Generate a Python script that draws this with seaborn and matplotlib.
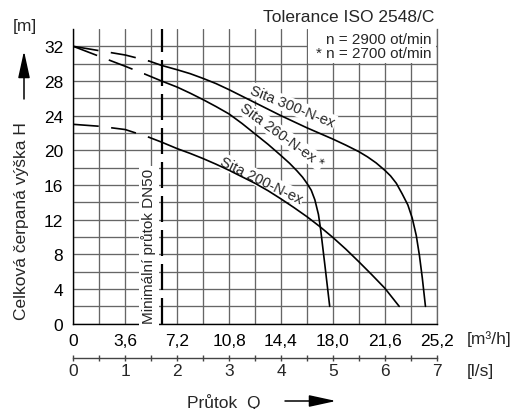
import numpy as np
import pandas as pd
import matplotlib
matplotlib.use("Agg")
import matplotlib.pyplot as plt
import seaborn as sns
from matplotlib.patches import Rectangle

# ---------------- data ----------------
q_300 = [5.26, 6.12, 7.2, 8.1, 9.0, 9.9, 10.8, 11.7, 12.6, 13.5, 14.4, 15.3, 16.2, 17.1, 18.0, 18.9, 19.8,
         20.4, 21.0, 21.6, 22.0, 22.4, 22.8, 23.2, 23.5, 23.78, 24.0, 24.2, 24.42]
h_300 = [30.3, 29.8, 29.3, 28.85, 28.3, 27.7, 27.0, 26.25, 25.5, 24.75, 24.0, 23.3, 22.6, 21.95, 21.3, 20.6, 19.85,
         19.25, 18.55, 17.7, 17.05, 16.2, 15.0, 13.7, 12.2, 10.2, 7.9, 5.3, 2.0]
q_300_dash = [0, 1.8, 3.6, 5.26]
h_300_dash = [32.0, 31.5, 31.0, 30.3]

q_260 = [4.96, 6.12, 7.2, 8.1, 9.0, 9.9, 10.8, 11.7, 12.6, 13.5, 14.4, 15.0, 15.5, 15.9, 16.2, 16.5, 16.75,
         17.0, 17.15, 17.45, 17.78]
h_260 = [28.8, 28.0, 27.3, 26.6, 25.85, 25.05, 24.2, 23.1, 21.9, 20.7, 19.4, 18.5, 17.65, 16.9, 16.2, 15.4, 14.3,
         12.6, 10.9, 6.7, 2.0]
q_260_dash = [0, 1.8, 3.6, 4.96]
h_260_dash = [32.0, 30.85, 29.7, 28.8]

q_200 = [5.26, 6.12, 7.2, 8.1, 9.0, 9.9, 10.8, 11.7, 12.6, 13.5, 14.4, 15.3, 16.2, 17.1, 18.0, 18.9, 19.8,
         20.7, 21.6, 22.6]
h_200 = [21.5, 20.95, 20.2, 19.65, 19.05, 18.4, 17.7, 16.95, 16.2, 15.35, 14.4, 13.4, 12.35, 11.2, 9.95, 8.6, 7.15,
         5.65, 4.1, 2.0]
q_200_dash = [0, 1.8, 3.6, 5.26]
h_200_dash = [23.0, 22.78, 22.4, 21.5]

q_min = 6.12  # Minimální průtok DN50 (1.7 l/s)

x_ticks_m3h = [0, 3.6, 7.2, 10.8, 14.4, 18.0, 21.6, 25.2]
x_tick_labels = ["0", "3,6", "7,2", "10,8", "14,4", "18,0", "21,6", "25,2"]
y_ticks = [0, 4, 8, 12, 16, 20, 24, 28, 32]
ls_ticks = [0, 1, 2, 3, 4, 5, 6, 7]

labels = ["Sita 300-N-ex", "Sita 260-N-ex *", "Sita 200-N-ex"]

# ---------------- style ----------------
sns.set_theme(style="white")
plt.rcParams["font.family"] = ["Liberation Sans", "DejaVu Sans"]

W, H = 513, 410
fig = plt.figure(figsize=(W / 100, H / 100), dpi=100)

def fx(px):
    return px / W

def fy(py):
    return 1 - py / H

ax = fig.add_axes([fx(73.3), fy(324.7), fx(436.7) - fx(73.3), fy(30) - fy(324.7)])
ax.set_facecolor("white")
ax.set_xlim(0, 25.2)
ax.set_ylim(0, 34)

grid_c = "#666666"
xt = np.round(np.arange(0, 25.2 + 0.01, 1.8), 1)
ax.set_xticks(xt)
ax.set_xticklabels([x_tick_labels[x_ticks_m3h.index(v)] if v in x_ticks_m3h else "" for v in xt],
                   fontsize=12.5)
yt = np.arange(0, 33, 2)
ax.set_yticks(yt)
ax.set_yticklabels([str(int(v)) if int(v) in y_ticks else "" for v in yt], fontsize=12.5)
ax.grid(True, color=grid_c, lw=0.95)
ax.tick_params(axis="x", direction="out", length=3.5, width=1, color="black", pad=3, labelcolor="black")
ax.tick_params(axis="y", direction="out", length=4.8, width=1, color="black", pad=2.5, labelcolor="black")
ax.spines["top"].set_visible(False)
ax.spines["right"].set_color(grid_c)
ax.spines["right"].set_linewidth(0.95)
ax.spines["left"].set_color("black")
ax.spines["bottom"].set_color("black")
ax.spines["left"].set_linewidth(1.0)
ax.spines["bottom"].set_linewidth(1.0)

# white box for speed legend
ax.add_patch(Rectangle((16.2 + 0.07, 30 + 0.06), 9.0 - 0.14, 4.0, facecolor="white",
                       edgecolor="none", zorder=2, clip_on=False))

# ---------------- curves ----------------
dash = (0, (15.3, 7.5))
for q, h in [(q_300, h_300), (q_260, h_260), (q_200, h_200)]:
    sns.lineplot(x=q, y=h, ax=ax, color="black", lw=1.2, sort=False, estimator=None, zorder=5)
for q, h in [(q_300_dash, h_300_dash), (q_260_dash, h_260_dash), (q_200_dash, h_200_dash)]:
    sns.lineplot(x=q, y=h, ax=ax, color="black", lw=1.2, sort=False, estimator=None,
                 linestyle=dash, zorder=5)

ax.axvline(q_min, color="black", lw=1.6, linestyle=(0, (11.7, 3.6)), zorder=5)

# curve labels
bb = dict(boxstyle="square,pad=0.08", facecolor="white", edgecolor="none")
ax.text(15.2, 25.05, labels[0], rotation=-22, ha="center", va="center",
        rotation_mode="anchor", fontsize=10.5, bbox=bb, zorder=4)
ax.text(14.45, 21.75, labels[1], rotation=-36, ha="center", va="center",
        rotation_mode="anchor", fontsize=10.5, bbox=bb, zorder=4)
ax.text(13.05, 16.6, labels[2], rotation=-26, ha="center", va="center",
        rotation_mode="anchor", fontsize=10.5, bbox=bb, zorder=4)

ax.text(5.24, 9.0, "Minimální průtok DN50", rotation=90, ha="center", va="center",
        fontsize=11, bbox=dict(boxstyle="square,pad=0.15", facecolor="white", edgecolor="none"), zorder=4)

# ---------------- secondary l/s axis ----------------
sec = ax.secondary_xaxis(-(359.3 - 324.7) / (324.7 - 30),
                         functions=(lambda q: np.asarray(q) / 3.6, lambda l: np.asarray(l) * 3.6))
st = np.arange(0, 7.01, 0.5)
sec.set_xticks(st)
sec.set_xticklabels([str(int(v)) if float(v).is_integer() else "" for v in st], fontsize=12.5)
sec.tick_params(axis="x", direction="inout", length=5, width=1, color="#444444", pad=1)
sec.spines["bottom"].set_color("#444444")
sec.spines["bottom"].set_linewidth(1.0)

# ---------------- texts ----------------
fig.text(fx(434), fy(17.5), "Tolerance ISO 2548/C", ha="right", va="center", fontsize=12.5)
fig.text(fx(431), fy(40), "n = 2900 ot/min", ha="right", va="center", fontsize=11)
fig.text(fx(431), fy(54), "* n = 2700 ot/min", ha="right", va="center", fontsize=11)
fig.text(fx(467), fy(339), "[m³/h]", ha="left", va="center", fontsize=12.5)
fig.text(fx(467), fy(372), "[l/s]", ha="left", va="center", fontsize=12.5)
fig.text(fx(224), fy(403), "Průtok  Q", ha="center", va="center", fontsize=12.5)
fig.text(fx(22), fy(221), "Celková čerpaná výška H", ha="center", va="center", rotation=90, fontsize=12.5)
fig.text(fx(24.5), fy(27), "[m]", ha="center", va="center", fontsize=12.5)

arrow = dict(arrowstyle="-|>,head_length=1.65,head_width=0.36", color="black", lw=1.1,
             shrinkA=0, shrinkB=0, mutation_scale=10)
ax.annotate("", xy=(fx(336), fy(402)), xytext=(fx(285), fy(402)),
            xycoords="figure fraction", textcoords="figure fraction", arrowprops=arrow)
ax.annotate("", xy=(fx(24), fy(52)), xytext=(fx(24), fy(100)),
            xycoords="figure fraction", textcoords="figure fraction", arrowprops=arrow)

fig.savefig("out.png", dpi=100)
